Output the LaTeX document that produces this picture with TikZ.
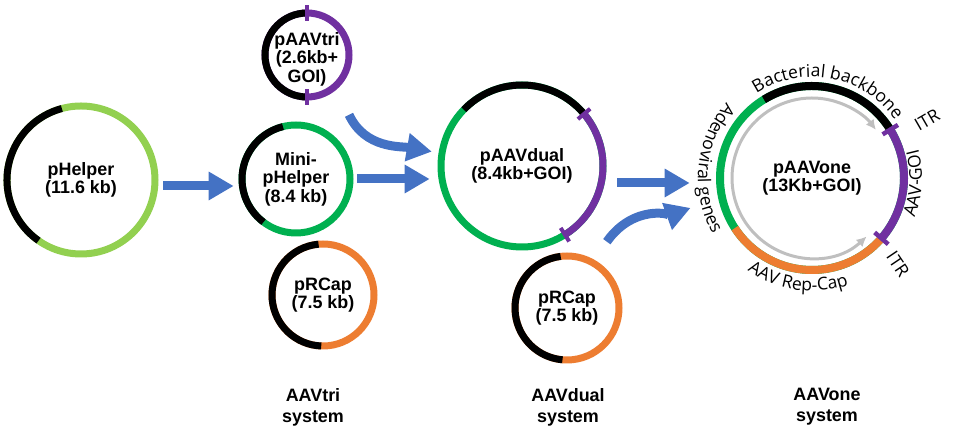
\documentclass[tikz,border=0pt]{standalone}
\usepackage{fontspec}
\setmainfont{Liberation Sans}
\newfontfamily\labelfont{Open Sans}
\usetikzlibrary{arrows.meta,decorations.text}
\definecolor{Ink}{HTML}{000000}
\definecolor{HelperGreen}{HTML}{92D050}
\definecolor{AdenoGreen}{HTML}{00B050}
\definecolor{GoiPurple}{HTML}{7030A0}
\definecolor{RepCap}{HTML}{ED7D31}
\definecolor{Flow}{HTML}{4472C4}
\definecolor{Tx}{HTML}{BFBFBF}

\begin{document}
\begin{tikzpicture}[x=0.02cm,y=0.02cm,
  plasmid/.style={circle,inner sep=0pt,align=center,font=\bfseries\fontsize{10.2}{10.5}\selectfont},
  ring/.style={line width=0.14cm},
  itr/.style={GoiPurple,line width=0.08cm},
  flow/.style={Flow,line width=0.18cm,-{Triangle[length=0.5cm,width=0.54cm]}},
  tx/.style={Tx,line width=0.06cm,-{Latex[length=0.2cm,width=0.2cm]}},
  lbl/.style={inner sep=0pt,font=\labelfont\fontsize{10}{12}\selectfont},
  sys/.style={align=center,font=\bfseries\fontsize{10.2}{12}\selectfont}]
\useasboundingbox (0,0) rectangle (960,432);

% plasmids
\node[plasmid,minimum size=1.82cm] (tri) at (307,373) {pAAVtri\\(2.6kb+\\GOI)};
\node[plasmid,minimum size=3.10cm] (helper) at (81,252) {pHelper\\(11.6 kb)};
\node[plasmid,minimum size=2.30cm] (mini) at (296,253) {Mini-\\pHelper\\(8.4 kb)};
\node[plasmid,minimum size=2.18cm] (rcapA) at (323,137) {pRCap\\(7.5 kb)};
\node[plasmid,minimum size=3.38cm] (dual) at (522,266) {pAAVdual\\(8.4kb+GOI)};
\node[plasmid,minimum size=2.20cm] (rcapB) at (567,124) {pRCap\\(7.5 kb)};
\node[plasmid,minimum size=3.84cm] (one) at (812,254) {pAAVone\\(13Kb+GOI)};
\coordinate (triC) at ([yshift=0.08cm]tri.center);

% rings
\draw[ring,HelperGreen] (helper.center) circle[radius=74];
\draw[ring,Ink] ([shift={(105:74)}]helper.center) arc[start angle=105,end angle=235,radius=74];
\draw[ring,GoiPurple] (triC) circle[radius=42];
\draw[ring,Ink] ([shift={(90:42)}]triC) arc[start angle=90,end angle=270,radius=42];
\draw[itr] ([shift={(90:34)}]triC) -- ++(90:16);
\draw[itr] ([shift={(270:34)}]triC) -- ++(270:16);
\draw[ring,AdenoGreen] (mini.center) circle[radius=54];
\draw[ring,Ink] ([shift={(104:54)}]mini.center) arc[start angle=104,end angle=233,radius=54];
\draw[ring,RepCap] (rcapA.center) circle[radius=51];
\draw[ring,Ink] ([shift={(95:51)}]rcapA.center) arc[start angle=95,end angle=268,radius=51];
\draw[ring,AdenoGreen] (dual.center) circle[radius=81];
\draw[ring,Ink] ([shift={(40:81)}]dual.center) arc[start angle=40,end angle=136,radius=81];
\draw[ring,GoiPurple] ([shift={(-58:81)}]dual.center) arc[start angle=-58,end angle=40,radius=81];
\draw[itr] ([shift={(40:73)}]dual.center) -- ++(40:16);
\draw[itr] ([shift={(-58:73)}]dual.center) -- ++(-58:16);
\draw[ring,RepCap] (rcapB.center) circle[radius=52];
\draw[ring,Ink] ([shift={(97:52)}]rcapB.center) arc[start angle=97,end angle=265,radius=52];

\draw[ring,line width=0.16cm,AdenoGreen] (one.center) circle[radius=92];
\draw[ring,line width=0.16cm,Ink] ([shift={(31.7:92)}]one.center) arc[start angle=31.7,end angle=121.5,radius=92];
\draw[ring,line width=0.16cm,RepCap] ([shift={(213:92)}]one.center) arc[start angle=213,end angle=319,radius=92];
\draw[ring,line width=0.16cm,GoiPurple] ([shift={(-41:92)}]one.center) arc[start angle=-41,end angle=31.7,radius=92];
\draw[itr,line width=0.09cm] ([shift={(31.7:83)}]one.center) -- ++(31.7:18);
\draw[itr,line width=0.09cm] ([shift={(-41:83)}]one.center) -- ++(-41:18);
\draw[tx] ([shift={(135:80)}]one.center) arc[start angle=135,end angle=37,radius=80];
\draw[tx] ([shift={(135:80)}]one.center) arc[start angle=135,end angle=313,radius=80];

% pAAVone labels
\path[decorate,decoration={text along path,text align=center,
  text={|\labelfont\fontsize{10}{12}\selectfont|Bacterial backbone}}]
  ([shift={(135:101)}]one.center) arc[start angle=135,end angle=23,radius=101];
\path[decorate,decoration={text along path,text align=center,
  text={|\labelfont\fontsize{10}{12}\selectfont|Adenoviral genes}}]
  ([shift={(120:114)}]one.center) arc[start angle=120,end angle=228,radius=114];
\path[decorate,decoration={text along path,text align=center,
  text={|\labelfont\fontsize{10}{12}\selectfont|AAV Rep-Cap}}]
  ([shift={(215:113)}]one.center) arc[start angle=215,end angle=309,radius=113];
\path[decorate,decoration={text along path,text align=center,
  text={|\labelfont\fontsize{10}{12}\selectfont|AAV-GOI}}]
  ([shift={(-40:110)}]one.center) arc[start angle=-40,end angle=34,radius=110];
\node[lbl,rotate=30] (itrA) at (927,312) {ITR};
\node[lbl,rotate=-56] (itrB) at (898,168) {ITR};

% arrows
\coordinate (a1s) at ([yshift=-0.12cm]helper.east);
\draw[flow,shorten <=0.09cm,shorten >=0.09cm] (a1s) -- (a1s -| mini.west);
\draw[flow,shorten <=0.07cm,shorten >=0.15cm] (mini.east) -- (mini.east -| dual.west);
\draw[flow,shorten >=0.13cm] ([shift={(-53:24)}]tri.-53) to[out=-65,in=170] (dual.171);
\coordinate (a4s) at ([yshift=-0.34cm]dual.east);
\draw[flow,shorten <=0.21cm,shorten >=0.52cm] (a4s) -- (a4s -| one.west);
\draw[flow,shorten >=0.58cm] ([shift={(59:22)}]rcapB.59) to[out=55,in=200] (one.192);

% systems
\node[sys] (sysTri) at (313,25) {AAVtri\\system};
\node[sys] (sysDual) at (568,25) {AAVdual\\system};
\node[sys] (sysOne) at (827,25) {AAVone\\system};
\end{tikzpicture}
\end{document}
